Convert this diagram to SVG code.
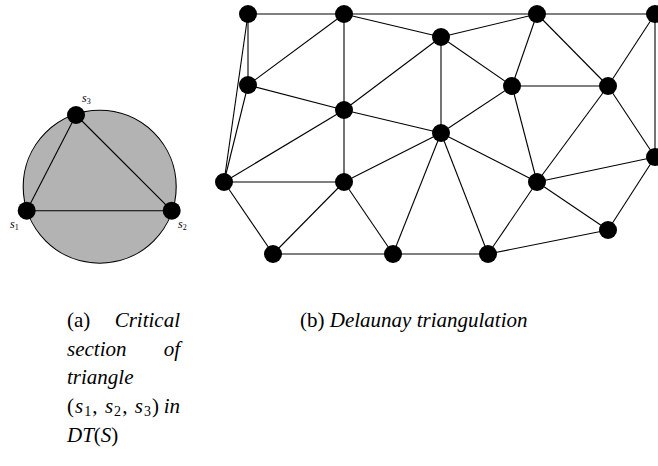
<svg xmlns="http://www.w3.org/2000/svg" width="658" height="466" viewBox="0 0 658 466">
<style>
.e{stroke:#000;stroke-width:1.1;fill:none}
.n{fill:#000}
.cap{font-family:"Liberation Serif",serif;font-size:21px;fill:#000}
.it{font-style:italic}
.lab{font-family:"Liberation Serif",serif;font-size:12px;font-style:italic;fill:#000}
.sub{font-size:8px;font-style:normal}
</style>
<rect width="658" height="466" fill="#fff"/>
<!-- (a) critical section -->
<g id="critical-circle">
<circle cx="99.7" cy="186.7" r="76.5" fill="#b3b3b3" stroke="#000" stroke-width="1.1"/>
</g>
<g id="triangle-edges">
<line class="e" x1="26.7" y1="210.7" x2="171.7" y2="210.7"/>
<line class="e" x1="26.7" y1="210.7" x2="76" y2="115"/>
<line class="e" x1="76" y1="115" x2="171.7" y2="210.7"/>
</g>
<g id="s1"><circle class="n" cx="26.7" cy="210.7" r="9"/><text class="lab" x="10" y="228">s<tspan class="sub" dy="2">1</tspan></text></g>
<g id="s2"><circle class="n" cx="171.7" cy="210.7" r="9"/><text class="lab" x="178" y="228">s<tspan class="sub" dy="2">2</tspan></text></g>
<g id="s3"><circle class="n" cx="76" cy="115" r="9"/><text class="lab" x="82" y="102">s<tspan class="sub" dy="2">3</tspan></text></g>
<!-- (b) Delaunay triangulation -->
<g id="connectors">
<line class="e" x1="248" y1="14" x2="344" y2="14"/>
<line class="e" x1="248" y1="14" x2="248" y2="85"/>
<line class="e" x1="248" y1="14" x2="224" y2="182"/>
<line class="e" x1="248" y1="85" x2="224" y2="182"/>
<line class="e" x1="248" y1="85" x2="344" y2="14"/>
<line class="e" x1="248" y1="85" x2="344" y2="110"/>
<line class="e" x1="344" y1="14" x2="344" y2="110"/>
<line class="e" x1="344" y1="14" x2="441" y2="37"/>
<line class="e" x1="344" y1="14" x2="537" y2="14"/>
<line class="e" x1="344" y1="110" x2="441" y2="37"/>
<line class="e" x1="344" y1="110" x2="344" y2="182"/>
<line class="e" x1="344" y1="110" x2="224" y2="182"/>
<line class="e" x1="344" y1="110" x2="441" y2="133"/>
<line class="e" x1="224" y1="182" x2="344" y2="182"/>
<line class="e" x1="224" y1="182" x2="273" y2="254"/>
<line class="e" x1="344" y1="182" x2="273" y2="254"/>
<line class="e" x1="344" y1="182" x2="393" y2="254"/>
<line class="e" x1="344" y1="182" x2="441" y2="133"/>
<line class="e" x1="273" y1="254" x2="393" y2="254"/>
<line class="e" x1="393" y1="254" x2="488" y2="254"/>
<line class="e" x1="393" y1="254" x2="441" y2="133"/>
<line class="e" x1="441" y1="37" x2="537" y2="14"/>
<line class="e" x1="441" y1="37" x2="512" y2="86"/>
<line class="e" x1="441" y1="37" x2="441" y2="133"/>
<line class="e" x1="537" y1="14" x2="512" y2="86"/>
<line class="e" x1="537" y1="14" x2="608" y2="86"/>
<line class="e" x1="537" y1="14" x2="655" y2="14"/>
<line class="e" x1="655" y1="14" x2="608" y2="86"/>
<line class="e" x1="655" y1="14" x2="655" y2="157"/>
<line class="e" x1="512" y1="86" x2="608" y2="86"/>
<line class="e" x1="512" y1="86" x2="441" y2="133"/>
<line class="e" x1="512" y1="86" x2="537" y2="182"/>
<line class="e" x1="608" y1="86" x2="537" y2="182"/>
<line class="e" x1="608" y1="86" x2="655" y2="157"/>
<line class="e" x1="441" y1="133" x2="537" y2="182"/>
<line class="e" x1="441" y1="133" x2="488" y2="254"/>
<line class="e" x1="537" y1="182" x2="488" y2="254"/>
<line class="e" x1="537" y1="182" x2="655" y2="157"/>
<line class="e" x1="537" y1="182" x2="608" y2="230"/>
<line class="e" x1="608" y1="230" x2="655" y2="157"/>
<line class="e" x1="608" y1="230" x2="488" y2="254"/>
</g>
<g id="nA"><circle class="n" cx="248" cy="14" r="9"/></g>
<g id="nB"><circle class="n" cx="344" cy="14" r="9"/></g>
<g id="nC"><circle class="n" cx="248" cy="85" r="9"/></g>
<g id="nD"><circle class="n" cx="344" cy="110" r="9"/></g>
<g id="nE"><circle class="n" cx="224" cy="182" r="9"/></g>
<g id="nF"><circle class="n" cx="344" cy="182" r="9"/></g>
<g id="nG"><circle class="n" cx="273" cy="254" r="9"/></g>
<g id="nH"><circle class="n" cx="393" cy="254" r="9"/></g>
<g id="nI"><circle class="n" cx="537" cy="14" r="9"/></g>
<g id="nJ"><circle class="n" cx="655" cy="14" r="9"/></g>
<g id="nK"><circle class="n" cx="441" cy="37" r="9"/></g>
<g id="nL"><circle class="n" cx="512" cy="86" r="9"/></g>
<g id="nM"><circle class="n" cx="608" cy="86" r="9"/></g>
<g id="nN"><circle class="n" cx="441" cy="133" r="9"/></g>
<g id="nO"><circle class="n" cx="655" cy="157" r="9"/></g>
<g id="nP"><circle class="n" cx="537" cy="182" r="9"/></g>
<g id="nQ"><circle class="n" cx="608" cy="230" r="9"/></g>
<g id="nR"><circle class="n" cx="488" cy="254" r="9"/></g>
<!-- captions -->
<g id="caption-a" class="cap">
<text x="67" y="327">(a)</text>
<text x="180" y="327" text-anchor="end" class="it">Critical</text>
<text x="67" y="356" class="it">section</text>
<text x="180" y="356" text-anchor="end" class="it">of</text>
<text x="67" y="384" class="it">triangle</text>
<text x="67" y="413" textLength="92" lengthAdjust="spacing">(<tspan class="it">s</tspan><tspan font-size="14" dy="3">1</tspan><tspan dy="-3">, </tspan><tspan class="it">s</tspan><tspan font-size="14" dy="3">2</tspan><tspan dy="-3">, </tspan><tspan class="it">s</tspan><tspan font-size="14" dy="3">3</tspan><tspan dy="-3">)</tspan></text>
<text x="180" y="413" text-anchor="end" class="it">in</text>
<text x="67" y="442"><tspan class="it">DT</tspan>(<tspan class="it">S</tspan>)</text>
</g>
<g id="caption-b" class="cap">
<text x="300" y="327">(b) <tspan class="it">Delaunay triangulation</tspan></text>
</g>
</svg>
